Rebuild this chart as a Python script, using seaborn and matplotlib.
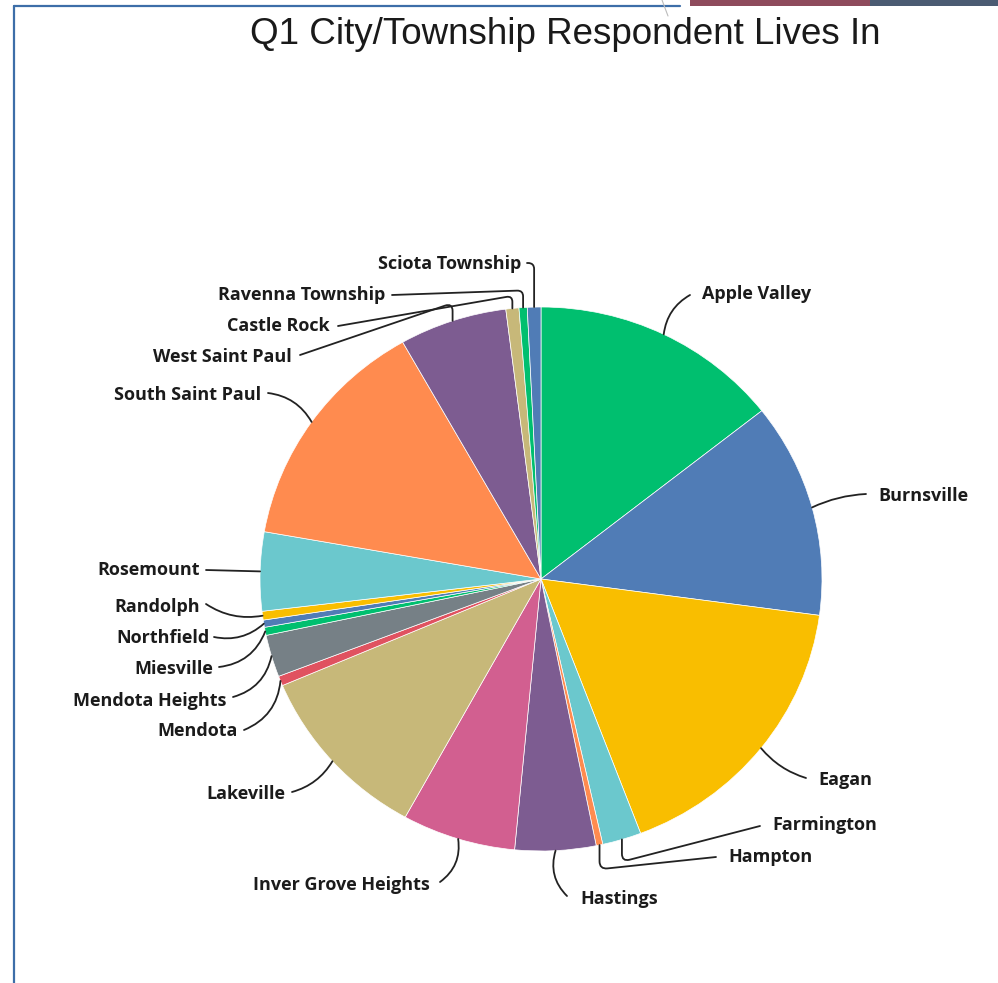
import matplotlib
matplotlib.use('Agg')
import matplotlib.pyplot as plt
import seaborn as sns
import numpy as np
from matplotlib.patches import Rectangle
from matplotlib.lines import Line2D

# ---- data (percent of respondents) ----
cities = ["Apple Valley", "Burnsville", "Eagan", "Farmington", "Hampton", "Hastings",
          "Inver Grove Heights", "Lakeville", "Mendota", "Mendota Heights", "Miesville",
          "Northfield", "Randolph", "Rosemount", "South Saint Paul", "West Saint Paul",
          "Castle Rock", "Ravenna Township", "Sciota Township"]
shares = [14.39, 12.75, 17.10, 2.24, 0.38, 4.65, 6.53, 10.57, 0.58, 2.50, 0.48,
          0.43, 0.52, 4.68, 14.03, 6.19, 0.75, 0.47, 0.78]
colors = ["#00BF6F", "#507CB6", "#F9BE00", "#6BC8CD", "#FF8B4F", "#7D5C91",
          "#D25F90", "#C7B879", "#E05260", "#768086", "#00BF6F", "#507CB6",
          "#F9BE00", "#6BC8CD", "#FF8B4F", "#7D5C91", "#C7B879", "#00BF6F", "#507CB6"]
title = "Q1 City/Township Respondent Lives In"

sns.set_theme(style="white")
plt.rcParams['font.family'] = ['Open Sans', 'DejaVu Sans']

W, H = 998, 983
fig = plt.figure(figsize=(W / 100, H / 100), dpi=100)
ax = fig.add_axes([0, 0, 1, 1])

CX, CY, RX, RY = 541, 579, 281, 272


def px(x, y):
    return ((x - CX) / RX, (CY - y) / RY)


palette = sns.color_palette(colors)
wedges, _ = ax.pie(shares, colors=palette, startangle=90, counterclock=False, radius=1,
                   wedgeprops=dict(edgecolor='white', linewidth=0.5))
ax.set_aspect('auto')
ax.set_xlim(-CX / RX, (W - CX) / RX)
ax.set_ylim(-(H - CY) / RY, CY / RY)
ax.axis('off')

# label layout: text anchor (px), ha, leader start (px), connection style
layout = {
    "Apple Valley": ((702, 294), 'left', (690, 295), "arc3,rad=0.25"),
    "Burnsville": ((878, 496), 'left', (866, 494), "arc3,rad=0.1"),
    "Eagan": ((818, 780), 'left', (806, 778), "arc3,rad=-0.15"),
    "Farmington": ((772, 825), 'left', (760, 826), "angle,angleA=14.5,angleB=90,rad=8"),
    "Hampton": ((728, 857), 'left', (716, 857), "angle,angleA=6,angleB=90,rad=8"),
    "Hastings": ((580, 899), 'left', (567, 896), "arc3,rad=-0.3"),
    "Inver Grove Heights": ((430, 885), 'right', (440, 882), "arc3,rad=0.3"),
    "Lakeville": ((285, 794), 'right', (292, 792), "arc3,rad=0.2"),
    "Mendota": ((238, 731), 'right', (244, 730), "arc3,rad=0.3"),
    "Mendota Heights": ((226, 701), 'right', (233, 697), "arc3,rad=0.3"),
    "Miesville": ((213, 669), 'right', (219, 667), "arc3,rad=0.3"),
    "Northfield": ((210, 638), 'right', (214, 637), "arc3,rad=0.25"),
    "Randolph": ((200, 607), 'right', (206, 604), "arc3,rad=0.2"),
    "Rosemount": ((200, 570), 'right', (206, 570), "arc3,rad=0"),
    "South Saint Paul": ((261, 395), 'right', (268, 393), "arc3,rad=-0.25"),
    "West Saint Paul": ((292, 357), 'right', (300, 355), "angle,angleA=18.8,angleB=90,rad=8"),
    "Castle Rock": ((330, 326), 'right', (338, 326), "angle,angleA=9.8,angleB=90,rad=6"),
    "Ravenna Township": ((385, 295), 'right', (392, 295), "angle,angleA=2,angleB=90,rad=6"),
    "Sciota Township": ((521, 264), 'right', (527, 263), "angle,angleA=0,angleB=90,rad=6"),
}

for w, name in zip(wedges, cities):
    mid = np.deg2rad((w.theta1 + w.theta2) / 2)
    edge = (np.cos(mid), np.sin(mid))
    (tx, ty), ha, (sx, sy), cs = layout[name]
    ax.text(*px(tx, ty), name, ha=ha, va='center', fontsize=13, fontweight='bold',
            color='#1b1b1b')
    ax.annotate('', xy=edge, xytext=px(sx, sy),
                arrowprops=dict(arrowstyle='-', color='#222222', lw=1.3,
                                shrinkA=0, shrinkB=0, connectionstyle=cs))

fig.text(565 / W, 1 - 34 / H, title, ha='center', va='center', fontsize=26.5,
         family=['Liberation Sans', 'DejaVu Sans'], color='#1a1a1a')

# frame decorations
def fx(x):
    return x / W


def fy(y):
    return 1 - y / H


fig.add_artist(Line2D([fx(14), fx(14)], [fy(6), fy(983)], color='#3d6ea8', lw=1.6))
fig.add_artist(Line2D([fx(14), fx(680)], [fy(6), fy(6)], color='#3d6ea8', lw=1.6))
fig.add_artist(Line2D([fx(662), fx(668)], [fy(0), fy(16)], color='#bbbbbb', lw=0.8))
fig.add_artist(Rectangle((fx(690), fy(6)), fx(870) - fx(690), fy(0) - fy(6),
                         transform=fig.transFigure, color='#8e4b5c', lw=0))
fig.add_artist(Rectangle((fx(870), fy(6)), fx(998) - fx(870), fy(0) - fy(6),
                         transform=fig.transFigure, color='#4b5b72', lw=0))

fig.savefig('out.png', dpi=100, facecolor='white')
